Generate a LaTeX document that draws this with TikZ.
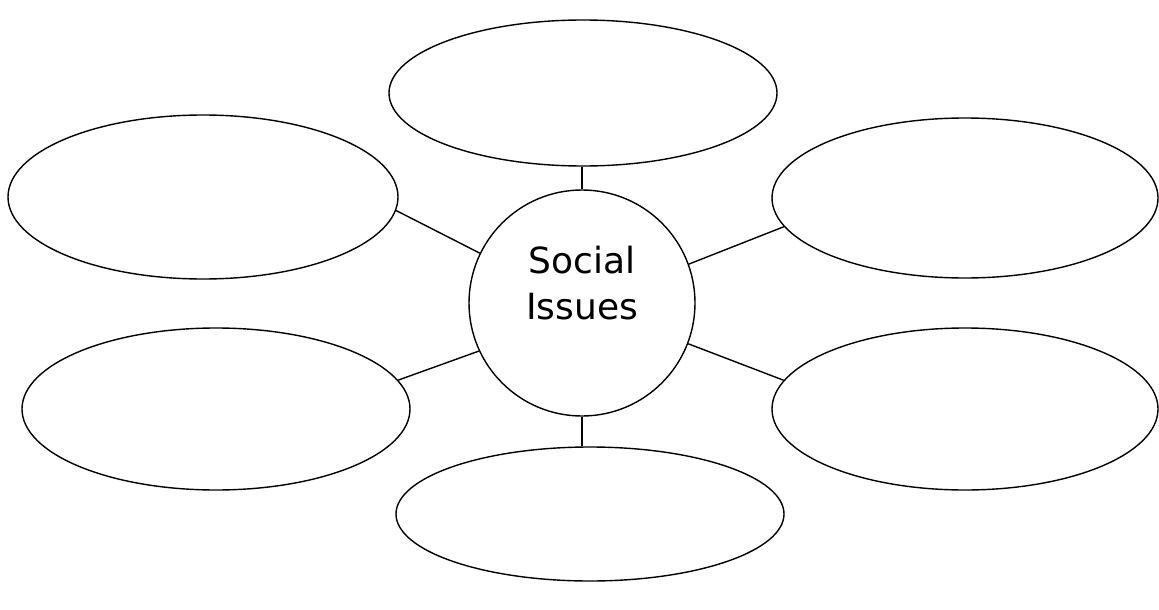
\documentclass[tikz,border=0pt]{standalone}
\usepackage{fontspec}
\setmainfont{DejaVu Sans}
\usetikzlibrary{shapes.geometric}
\begin{document}
\begin{tikzpicture}[x=1pt,y=-1pt,
  bubble/.style={draw=black,line width=1.4pt,ellipse,inner sep=0pt},
  hub/.style={draw=black,line width=1.4pt,circle,inner sep=0pt,minimum size=226pt},
  link/.style={draw=black,line width=1.4pt}]
\useasboundingbox (0,0) rectangle (1159,610);
\node[hub] (c) at (582,303) {};
\node[align=center,font=\fontsize{36}{46}\selectfont] (lbl) at (582,283) {Social\\Issues};
\node[bubble,minimum width=388pt,minimum height=146pt] (t) at (583,93) {};
\node[bubble,minimum width=390pt,minimum height=164pt] (tl) at (203,197) {};
\node[bubble,minimum width=386pt,minimum height=160pt] (tr) at (965,198) {};
\node[bubble,minimum width=388pt,minimum height=162pt] (bl) at (216,409) {};
\node[bubble,minimum width=386pt,minimum height=162pt] (br) at (965,409) {};
\node[bubble,minimum width=388pt,minimum height=134pt] (b) at (590,514) {};
\draw[link] (t.south -| c.north) -- (c.north);
\draw[link] (c.south) -- (c.south |- b.north);
\draw[link] (tl.-4.5) -- (c.154);
\draw[link] (tr.189) -- (c.20);
\draw[link] (bl.9) -- (c.205);
\draw[link] (br.171.5) -- (c.-21);
\end{tikzpicture}
\end{document}
